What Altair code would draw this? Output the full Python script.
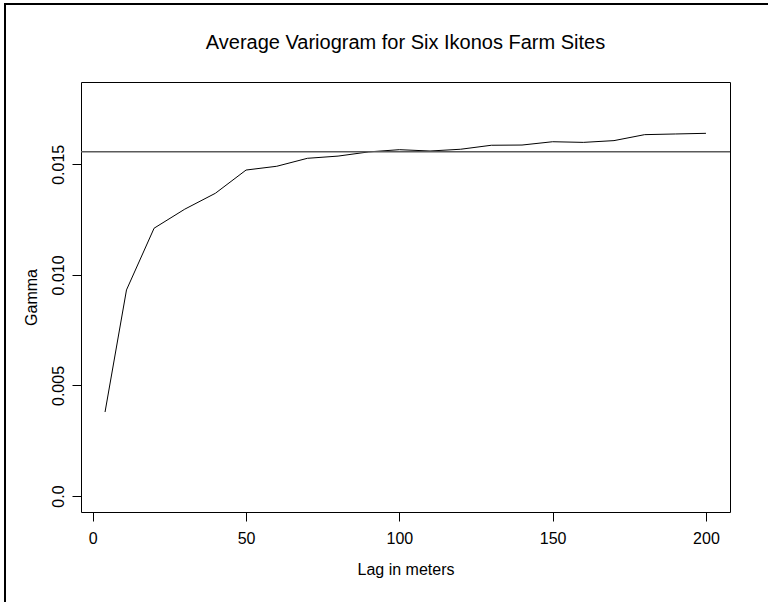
import altair as alt
import pandas as pd

# Average semivariance by lag distance
lag = [4, 11, 20, 30, 40, 50, 60, 70, 80, 90, 100, 110, 120, 130, 140, 150, 160, 170, 180, 190, 200]
gamma = [0.0038, 0.00932, 0.01211, 0.01297, 0.01369, 0.01474, 0.01491, 0.01527, 0.01537,
         0.01556, 0.01566, 0.01560, 0.01568, 0.01586, 0.01587, 0.01602, 0.01599, 0.01607,
         0.01634, 0.01637, 0.01640]
sill = [0.01557]

x_ticks = [0, 50, 100, 150, 200]
y_ticks = [0.0, 0.005, 0.010, 0.015]

main_title = ["Average Variogram for Six Ikonos Farm Sites"]

FONT = "Liberation Sans"
W, H = 649, 430

df = pd.DataFrame({"lag": lag, "gamma": gamma})
sill_df = pd.DataFrame({"sill": sill})
title_df = pd.DataFrame({"title": main_title})
frame_df = pd.DataFrame({"k": [0]})

# R-style axis ranges: data range padded by 4% on each side
xs = alt.Scale(domain=[-3.84, 207.84], nice=False, zero=False)
ys = alt.Scale(domain=[-0.00072, 0.01872], nice=False, zero=False)

x_axis = alt.Axis(
    values=x_ticks, title="Lag in meters", format="d",
    labelPadding=9, titleX=W / 2, titleY=62, titleBaseline="alphabetic",
    titleAlign="center", titleAngle=0,
)
y_axis = alt.Axis(
    values=y_ticks, title="Gamma",
    labelExpr="datum.value == 0 ? '0.0' : format(datum.value, '.3f')",
    labelAngle=270, labelAlign="center", labelBaseline="alphabetic", labelPadding=9,
    titleX=-45, titleY=H / 2, titleAngle=270, titleBaseline="alphabetic", titleAlign="center",
)

line = alt.Chart(df).mark_line(color="black", strokeWidth=1).encode(
    x=alt.X("lag:Q", scale=xs, axis=x_axis),
    y=alt.Y("gamma:Q", scale=ys, axis=y_axis),
)

sill_rule = alt.Chart(sill_df).mark_rule(color="#5a5a5a", strokeWidth=1.4).encode(
    y=alt.Y("sill:Q", scale=ys)
)

# main title, centred over the plot box in the top margin
title_text = alt.Chart(title_df).mark_text(
    font=FONT, fontSize=20, color="black", align="center", baseline="alphabetic"
).encode(text="title:N", x=alt.value(W / 2), y=alt.value(-33))

# outer frame along the left and top edges of the figure
frame_left = alt.Chart(frame_df).mark_rule(color="black", strokeWidth=2).encode(
    x=alt.value(-76), y=alt.value(-78), y2=alt.value(525)
)
frame_top = alt.Chart(frame_df).mark_rule(color="black", strokeWidth=2).encode(
    x=alt.value(-77), x2=alt.value(690), y=alt.value(-78)
)

chart = (
    alt.layer(line, sill_rule, title_text, frame_left, frame_top)
    .properties(
        width=W,
        height=H,
        autosize=alt.AutoSizeParams(type="none"),
        padding={"left": 81, "top": 82, "right": 38, "bottom": 90},
    )
    .configure(font=FONT, background="white")
    .configure_view(stroke="black", strokeWidth=1)
    .configure_axis(
        domain=False, grid=False, ticks=True, tickColor="black", tickSize=9, tickWidth=1,
        labelFont=FONT, labelFontSize=16, labelColor="black",
        titleFont=FONT, titleFontSize=16, titleFontWeight="normal", titleColor="black",
    )
)

chart.save("out.html", embed_options={"renderer": "svg", "actions": False})
